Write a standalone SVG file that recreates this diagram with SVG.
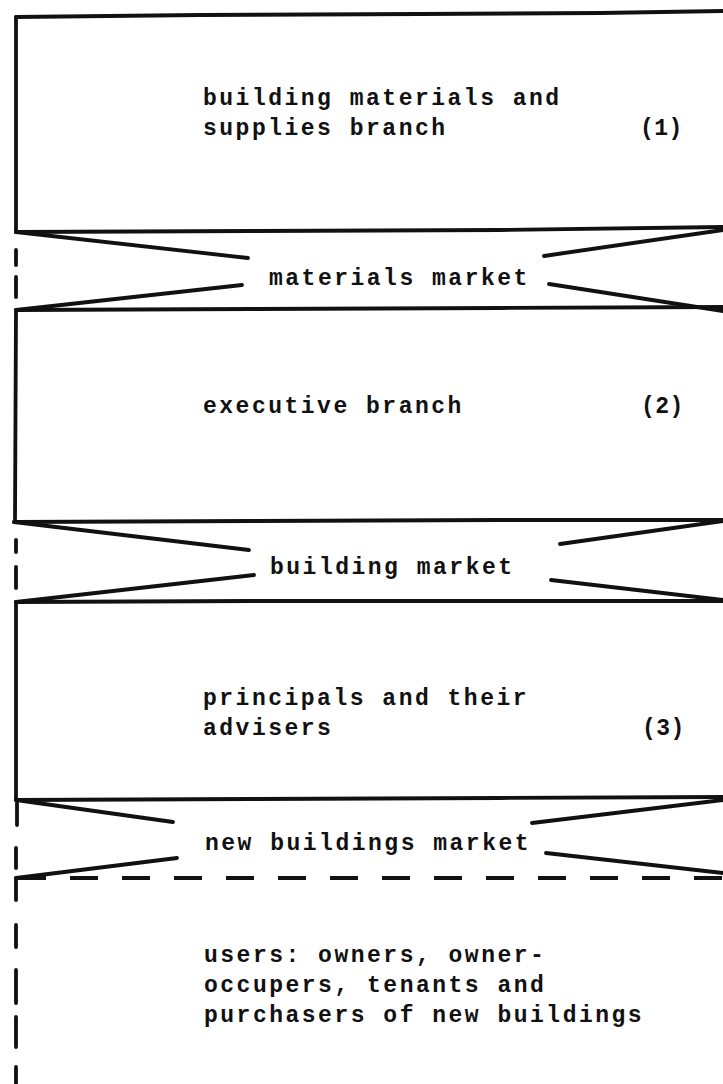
<svg xmlns="http://www.w3.org/2000/svg" width="723" height="1084" viewBox="0 0 723 1084">
<style>
.ln{fill:none;stroke:#111;stroke-width:3.8;stroke-linecap:round;stroke-linejoin:round}
.dl{fill:none;stroke:#111;stroke-width:3.8;stroke-linecap:round}
.dh{fill:none;stroke:#111;stroke-width:4.2;stroke-dasharray:28 24;stroke-linecap:butt}
.t{font-family:"Liberation Mono","Courier New",monospace;font-size:23px;font-weight:bold;letter-spacing:2.5px;fill:#111}
.n{font-family:"Liberation Mono","Courier New",monospace;font-size:23px;font-weight:bold;letter-spacing:0.5px;fill:#111}
</style>
<rect x="0" y="0" width="723" height="1084" fill="#fff"/>
<g id="node-materials-branch">
<path class="ln" d="M16,17 L200,15 L420,14 L600,13 L723,11"/>
<path class="ln" d="M16,17 L16,232"/>
<path class="ln" d="M16,232 L250,231 L500,230 L723,227"/>
<text class="t" x="203" y="105">building materials and</text>
<text class="t" x="203" y="135">supplies branch</text>
<text class="n" x="640" y="135">(1)</text>
</g>
<g id="node-executive-branch">
<path class="ln" d="M16,310 L250,309 L500,308 L723,307"/>
<path class="ln" d="M16,310 L15,522"/>
<path class="ln" d="M14,522 L250,521 L500,520 L723,520"/>
<text class="t" x="203" y="413">executive branch</text>
<text class="n" x="641" y="413">(2)</text>
</g>
<g id="node-principals">
<path class="ln" d="M16,602 L250,601 L500,601 L723,601"/>
<path class="ln" d="M16,602 L16,800"/>
<path class="ln" d="M16,800 L250,799 L500,798 L723,797"/>
<text class="t" x="203" y="705">principals and their</text>
<text class="t" x="203" y="735">advisers</text>
<text class="n" x="642" y="735">(3)</text>
</g>
<g id="node-users">
<path class="dh" d="M18,878 L723,878"/>
<path class="dl" d="M16,878 L16,900 M16,925 L16,947 M16,970 L16,1003 M16,1017 L16,1047 M16,1067 L16,1084"/>
<text class="t" x="204" y="962">users: owners, owner-</text>
<text class="t" x="204" y="992">occupers, tenants and</text>
<text class="t" x="204" y="1022">purchasers of new buildings</text>
</g>
<g id="connectors">
<g id="materials-market">
<path class="ln" d="M16,232 L248,258"/>
<path class="ln" d="M544,256 L723,230"/>
<path class="ln" d="M242,285 L16,310"/>
<path class="ln" d="M549,284 L723,311"/>
<path class="dl" d="M16,250 L16,265 M16,277 L16,297"/>
<text class="t" x="269" y="285">materials market</text>
</g>
<g id="building-market">
<path class="ln" d="M14,522 L249,550"/>
<path class="ln" d="M560,544 L723,521"/>
<path class="ln" d="M254,575 L16,602"/>
<path class="ln" d="M551,580 L723,600"/>
<path class="dl" d="M16,540 L16,552 M16,567 L16,588"/>
<text class="t" x="270" y="574">building market</text>
</g>
<g id="new-buildings-market">
<path class="ln" d="M16,800 L173,822"/>
<path class="ln" d="M532,823 L723,800"/>
<path class="ln" d="M177,858 L16,878"/>
<path class="ln" d="M546,853 L723,873"/>
<path class="dl" d="M17,803 L17,825 M16,848 L16,868"/>
<text class="t" x="205" y="850">new buildings market</text>
</g>
</g>
</svg>
